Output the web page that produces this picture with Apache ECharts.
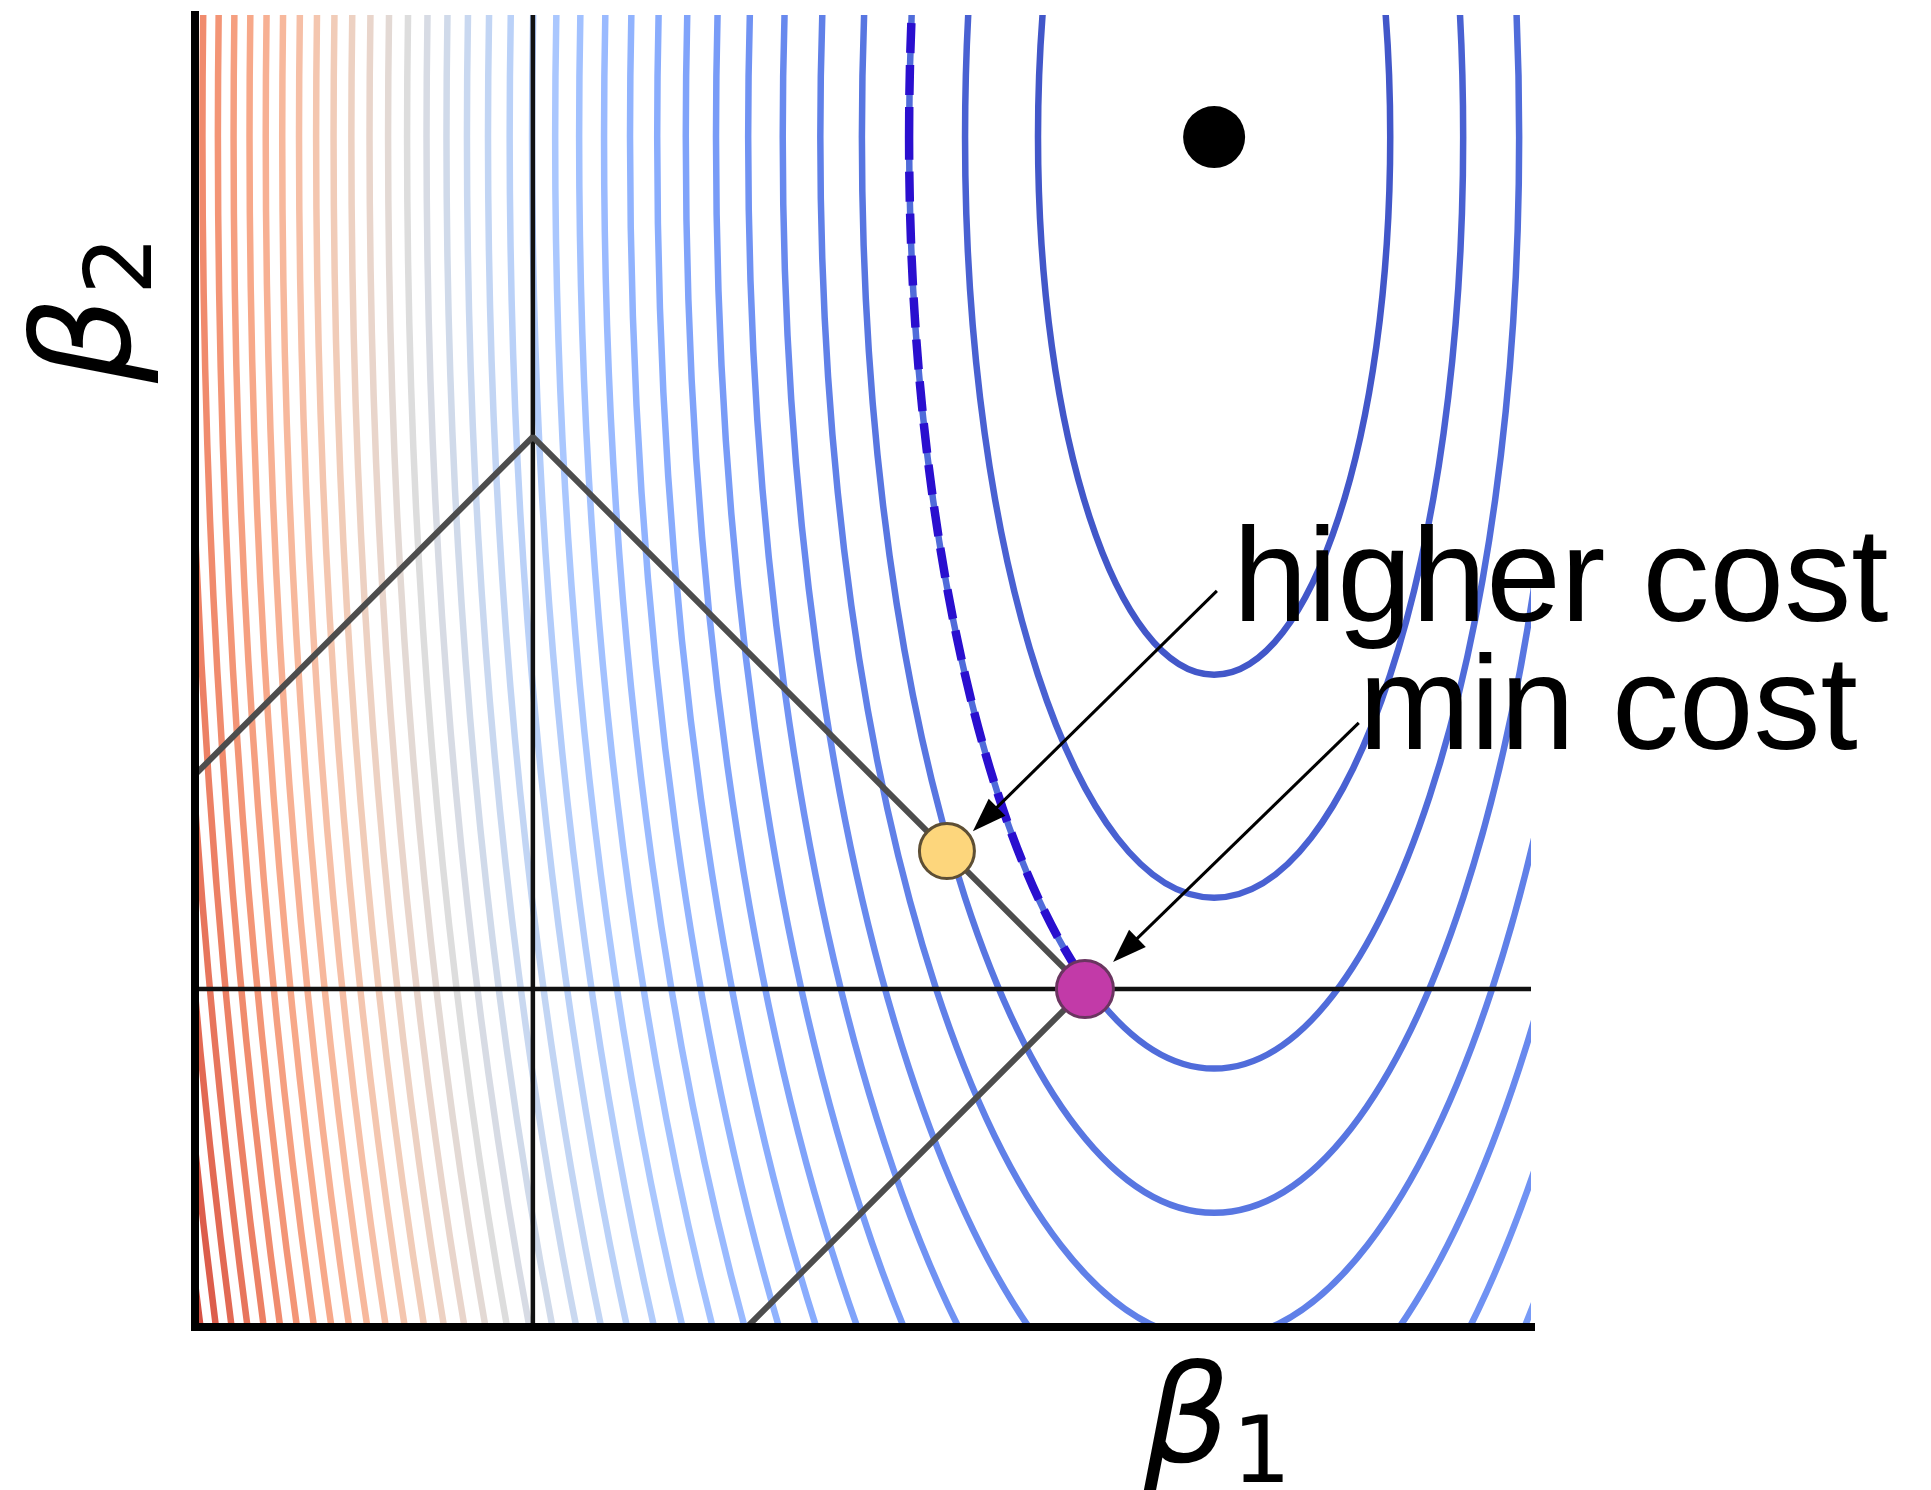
<!DOCTYPE html>
<html>
<head>
<meta charset="utf-8">
<title>Lasso constraint and cost contours</title>
<script src="https://cdn.jsdelivr.net/npm/echarts@6/dist/echarts.min.js"></script>
<style>
  html, body { margin: 0; padding: 0; background: #fff; }
  #chart { width: 1931px; height: 1490px; }
</style>
</head>
<body>
<div id="chart"></div>
<script>
// contour levels of the quadratic cost (equal steps)
var costLevels = [1, 2, 3, 4, 5, 6, 7, 8, 9, 10, 11, 12, 13, 14, 15, 16, 17, 18, 19, 20,
                  21, 22, 23, 24, 25, 26, 27, 28, 29, 30, 31, 32, 33, 34, 35, 36, 37, 38, 39, 40];
// the level that just touches the constraint (dashed)
var touchingLevel = [3];
// unconstrained minimum of the cost
var costMinimum = [1.234, 1.543];
// half widths of the level 1 contour along beta1 / beta2
var unitContour = [0.319, 0.974];
// visible edges of the L1 ball |b1| + |b2| <= 1
var constraintCorners = [[-1, 0], [0, 1], [1, 0], [0, -1]];
var higherCostPoint = [0.75, 0.25];
var minCostPoint = [1, 0];
var xRange = [-0.612, 1.808];
var yRange = [-0.612, 1.764];

// matplotlib "coolwarm"
var coolwarm = ['#3b4cc0', '#445acc', '#4d68d7', '#5775e1', '#6282ea', '#6c8ef1', '#779af7',
  '#82a5fb', '#8db0fe', '#98b9ff', '#a3c2ff', '#aec9fd', '#b8d0f9', '#c2d5f4', '#ccd9ee',
  '#d5dbe6', '#dddddd', '#e5d8d1', '#ecd3c5', '#f1ccb9', '#f5c4ad', '#f7bba0', '#f7b194',
  '#f7a687', '#f49a7b', '#f18d6f', '#ec7f63', '#e57058', '#de604d', '#d55042', '#cb3e38',
  '#c0282f', '#b40426'];

var annotations = [
  { text: 'higher cost', tail: [1.239, 0.721], tip: [0.797, 0.286], textAt: [1.268, 0.665] },
  { text: 'min cost', tail: [1.496, 0.482], tip: [1.051, 0.049], textAt: [1.496, 0.433] }
];

var myChart = echarts.init(document.getElementById('chart'));

function gridClip(params) {
  var cs = params.coordSys;
  return { type: 'rect', shape: { x: cs.x, y: cs.y, width: cs.width, height: cs.height } };
}

function contourShape(api, level) {
  var c = api.coord(costMinimum);
  var s = api.size([unitContour[0] * Math.sqrt(level), unitContour[1] * Math.sqrt(level)]);
  return { cx: c[0], cy: c[1], rx: s[0], ry: s[1] };
}

function renderContour(params, api) {
  return {
    type: 'ellipse',
    shape: contourShape(api, api.value(0)),
    style: { fill: null, stroke: api.visual('color'), lineWidth: 6.5 },
    clipPath: gridClip(params),
    silent: true
  };
}

function renderTouching(params, api) {
  var cs = params.coordSys;
  var corner = api.coord([minCostPoint[0] + 0.05, minCostPoint[1]]);
  return {
    type: 'ellipse',
    shape: contourShape(api, api.value(0)),
    style: { fill: null, stroke: '#2a0fcf', lineWidth: 8.5, lineDash: [30, 12] },
    clipPath: { type: 'rect', shape: { x: cs.x, y: cs.y, width: corner[0] - cs.x, height: corner[1] - cs.y } },
    silent: true
  };
}

function renderAnnotation(params, api) {
  var a = annotations[params.dataIndex];
  var p0 = api.coord(a.tail), p1 = api.coord(a.tip), t = api.coord(a.textAt);
  var dx = p1[0] - p0[0], dy = p1[1] - p0[1];
  var len = Math.sqrt(dx * dx + dy * dy);
  var ux = dx / len, uy = dy / len;
  var headLen = 34, headHalf = 12;
  var bx = p1[0] - ux * headLen, by = p1[1] - uy * headLen;
  var fontSize = 134;
  return {
    type: 'group',
    children: [{
      type: 'line',
      shape: { x1: p0[0], y1: p0[1], x2: bx + ux * 2, y2: by + uy * 2 },
      style: { stroke: '#000', lineWidth: 3 }
    }, {
      type: 'polygon',
      shape: { points: [[p1[0], p1[1]], [bx - uy * headHalf, by + ux * headHalf], [bx + uy * headHalf, by - ux * headHalf]] },
      style: { fill: '#000' }
    }, {
      type: 'text',
      x: t[0],
      y: t[1] - fontSize * 0.35 + 9,
      style: {
        text: a.text, fill: '#000', fontSize: fontSize,
        fontFamily: '"Liberation Sans", Arial, sans-serif',
        align: 'left', verticalAlign: 'middle'
      }
    }]
  };
}

var hiddenAxis = {
  type: 'value',
  axisLine: { show: true, onZero: false, lineStyle: { color: '#000', width: 8, cap: 'square' } },
  axisTick: { show: false },
  axisLabel: { show: false },
  splitLine: { show: false },
  z: 10
};

option = {
  animation: false,
  backgroundColor: '#fff',
  grid: { left: 195, top: 15, width: 1336, height: 1312 },
  xAxis: Object.assign({}, hiddenAxis, { min: xRange[0], max: xRange[1] }),
  yAxis: Object.assign({}, hiddenAxis, { min: yRange[0], max: yRange[1] }),
  visualMap: {
    type: 'continuous',
    show: false,
    seriesIndex: 0,
    dimension: 0,
    min: 0,
    max: 42,
    inRange: { color: coolwarm }
  },
  series: [{
    name: 'contours',
    type: 'custom',
    renderItem: renderContour,
    data: costLevels.map(function (l) { return [l]; }),
    z: 1
  }, {
    name: 'beta1 = 0',
    type: 'line',
    data: [[0, yRange[0]], [0, yRange[1]]],
    symbol: 'none',
    lineStyle: { color: '#111', width: 4.5 },
    z: 3
  }, {
    name: 'beta2 = 0',
    type: 'line',
    data: [[xRange[0], 0], [xRange[1], 0]],
    symbol: 'none',
    lineStyle: { color: '#111', width: 4.5 },
    z: 3
  }, {
    name: 'constraint',
    type: 'line',
    data: constraintCorners,
    symbol: 'none',
    lineStyle: { color: '#4d4d4d', width: 6 },
    z: 4
  }, {
    name: 'touching contour',
    type: 'custom',
    renderItem: renderTouching,
    data: touchingLevel.map(function (l) { return [l]; }),
    z: 5
  }, {
    name: 'points',
    type: 'scatter',
    data: [{
      value: costMinimum, symbolSize: 62,
      itemStyle: { color: '#000', opacity: 1 }
    }, {
      value: higherCostPoint, symbolSize: 55,
      itemStyle: { color: '#fdd67c', borderColor: '#5e4f34', borderWidth: 3, opacity: 1 }
    }, {
      value: minCostPoint, symbolSize: 57,
      itemStyle: { color: '#c23aa8', borderColor: '#6a3560', borderWidth: 3, opacity: 1 }
    }],
    z: 6
  }, {
    name: 'annotations',
    type: 'custom',
    renderItem: renderAnnotation,
    data: annotations.map(function (a, i) { return [i]; }),
    clip: false,
    silent: true,
    z: 7
  }],
  graphic: {
    elements: [{
      type: 'text',
      x: 1144, y: 1474 - 47,
      style: { text: 'β', fontSize: 135, fontStyle: 'italic', fontFamily: '"DejaVu Sans"', fill: '#000', align: 'left', verticalAlign: 'middle' }
    }, {
      type: 'text',
      x: 1232, y: 1491 - 33,
      style: { text: '1', fontSize: 93, fontFamily: '"DejaVu Sans"', fill: '#000', align: 'left', verticalAlign: 'middle' }
    }, {
      type: 'group',
      x: 142, y: 383,
      rotation: Math.PI / 2,
      children: [{
        type: 'text',
        x: 0, y: -47,
        style: { text: 'β', fontSize: 135, fontStyle: 'italic', fontFamily: '"DejaVu Sans"', fill: '#000', align: 'left', verticalAlign: 'middle' }
      }, {
        type: 'text',
        x: 88, y: -15,
        style: { text: '2', fontSize: 93, fontFamily: '"DejaVu Sans"', fill: '#000', align: 'left', verticalAlign: 'middle' }
      }]
    }]
  }
};

myChart.setOption(option);
</script>
</body>
</html>
